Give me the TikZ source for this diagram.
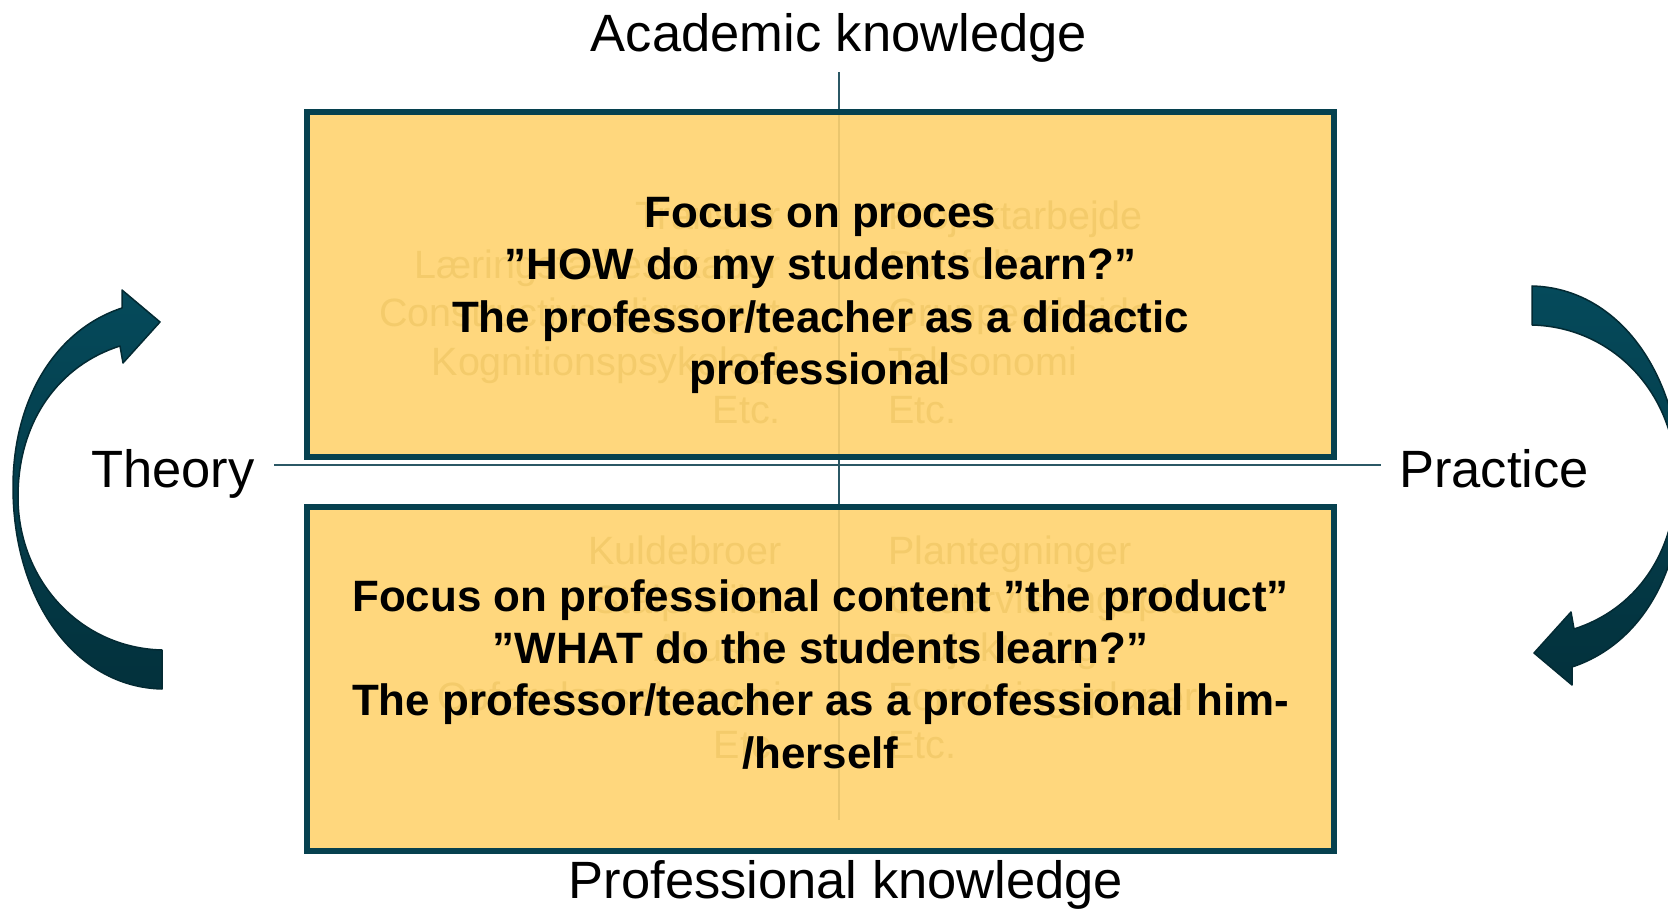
\documentclass[tikz,border=0pt]{standalone}
\usepackage{fontspec}
\setmainfont{Liberation Sans}

\definecolor{boxfill}{HTML}{FFD36F}
\definecolor{boxline}{HTML}{06414F}
\definecolor{axisline}{HTML}{2B5865}
\definecolor{arrowtop}{HTML}{054A5B}
\definecolor{arrowbot}{HTML}{03313C}
\definecolor{ghost}{HTML}{F4CB6B}

\tikzset{
  quadbox/.style={draw=boxline, line width=6pt, fill=boxfill, fill opacity=0.9,
    minimum width=1027pt, minimum height=344pt, inner sep=0pt},
  axis/.style={draw=axisline, line width=2pt},
  axislabel/.style={font=\fontsize{52.5}{63}\selectfont, inner sep=0pt},
  focustext/.style={font=\bfseries\fontsize{43.9}{52.4}\selectfont, align=center,
    inner sep=0pt, anchor=north},
  ghosttext/.style={text=ghost, font=\fontsize{39.5}{48.5}\selectfont, inner sep=0pt},
  cyclearrow/.pic={
    \shadedraw[top color=arrowtop, bottom color=arrowbot, draw=arrowbot!85!black,
      line width=1.5pt, line join=round]
      (162,689) .. controls (75,687) and (13,600) .. (13,487)
      .. controls (13,400) and (55,330) .. (122,308)
      -- (122,290) -- (160,322) -- (123,363) -- (120,346)
      .. controls (60,365) and (18,420) .. (18,497)
      .. controls (18,580) and (80,648) .. (162,650) -- cycle;
  }
}

\begin{document}
\begin{tikzpicture}[x=1pt, y=-1pt]
  % page 1668 x 909
  \path[use as bounding box, clip] (0,0) rectangle (1668,909);

  % axis labels
  \node[axislabel, anchor=base] (academic) at (839,52) {Academic knowledge};
  \node[axislabel, anchor=base] (professional) at (846,898) {Professional knowledge};
  \node[axislabel, anchor=base west] (theory) at (91,487) {Theory};
  \node[axislabel, anchor=base west] (practice) at (1399,487) {Practice};

  % axes
  \coordinate (vtop) at (839,72);
  \coordinate (vbot) at (839,820);
  \coordinate (hleft) at (274,465);
  \coordinate (hright) at (1381,465);
  \draw[axis] (vtop) -- (vbot);
  \draw[axis] (hleft) -- (hright);

  % the two boxes
  \node[quadbox] (procesbox) at (820.5,284.5) {};
  \node[quadbox] (productbox) at (820.5,679) {};

  % faint words behind
  \node[ghosttext, align=right, anchor=north east] (ghostul) at (781,201)
    {Transfer\\Læringsfællesskaber\\Constructive alignment\\Kognitionspsykologi\\Etc.};
  \node[ghosttext, align=left, anchor=north west] (ghostur) at (888,201)
    {Projektarbejde\\Portfolio\\Gruppearbejde\\Taksonomi\\Etc.};
  \node[ghosttext, align=right, anchor=north east] (ghostll) at (782,536)
    {Kuldebroer\\Stålprofiler\\Akustik\\Opførelsesøkonomi\\Etc.};
  \node[ghosttext, align=left, anchor=north west] (ghostlr) at (888,536)
    {Plantegninger\\Undervisningsplan\\Projektering\\Forretningsplaner\\Etc.};

  % box texts
  \node[focustext] (proces) at (820.5,197)
    {Focus on proces\\”HOW do my students learn?”\\The professor/teacher as a didactic\\professional};
  \node[focustext] (product) at (820.5,579)
    {Focus on professional content ”the product”\\”WHAT do the students learn?”\\The professor/teacher as a professional him-\\/herself};

  % curved arrows
  \pic at (0,0) {cyclearrow};
  \pic[rotate=180] at (1694,975) {cyclearrow};
\end{tikzpicture}
\end{document}
